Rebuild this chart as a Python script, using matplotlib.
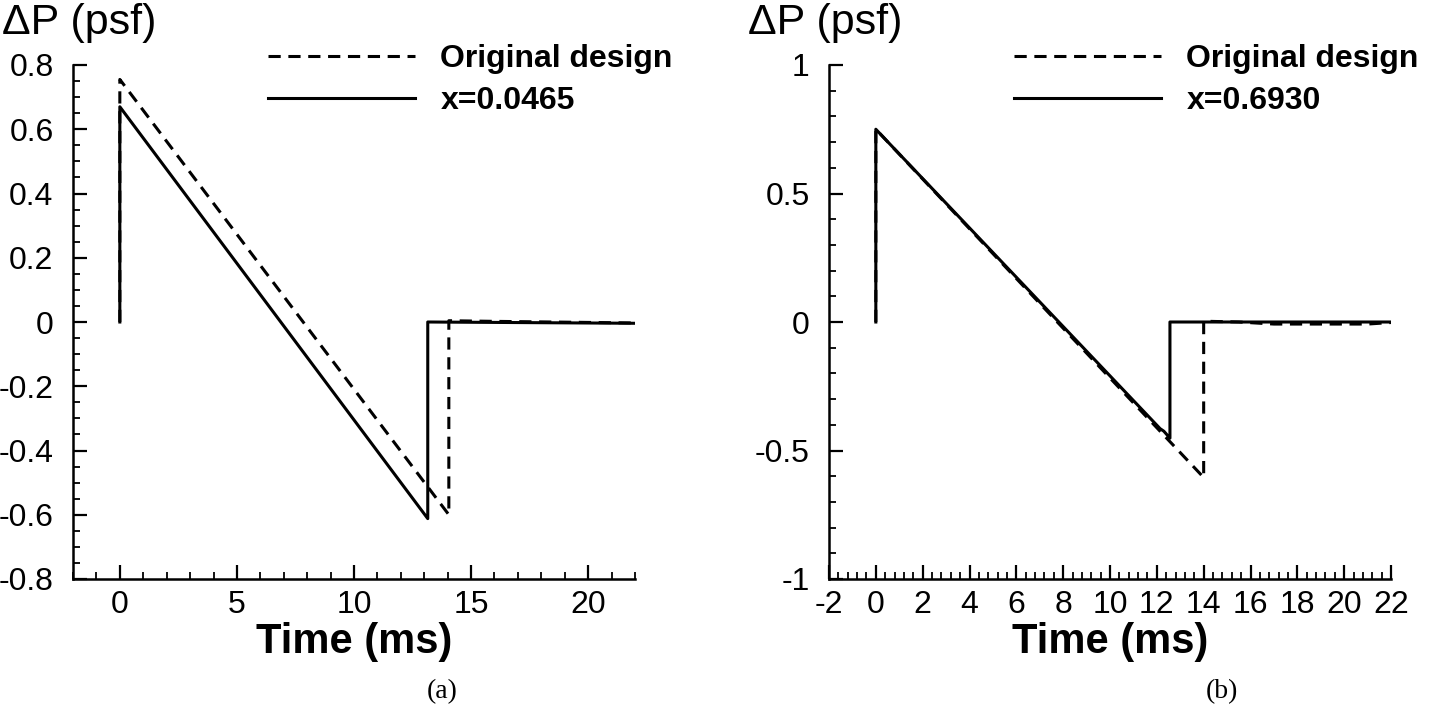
import matplotlib.pyplot as plt
from matplotlib.ticker import MultipleLocator

plt.rcParams['font.family'] = ['Liberation Sans', 'DejaVu Sans']
plt.rcParams['axes.unicode_minus'] = False

# panel (a): x = 0.0465
t_orig_a = [0, 0, 14.05, 14.05, 16.0, 22.0]
p_orig_a = [0, 0.755, -0.60, 0.004, 0.002, -0.003]
t_new_a = [0, 0, 13.15, 13.15, 22.0]
p_new_a = [0, 0.67, -0.612, 0.0, -0.004]

# panel (b): x = 0.6930
t_orig_b = [0, 0, 14.0, 14.0, 15.5, 17.0, 21.0, 22.0]
p_orig_b = [0, 0.75, -0.605, 0.003, 0.0, -0.008, -0.008, -0.002]
t_new_b = [0, 0, 12.14, 12.3, 12.56, 12.56, 22.0]
p_new_b = [0, 0.75, -0.415, -0.425, -0.452, 0.0, 0.0]

labels_a = ["Original design", "x=0.0465"]
labels_b = ["Original design", "x=0.6930"]

W, H = 1440, 714
fig = plt.figure(figsize=(W / 100, H / 100), dpi=100)


def style_axes(ax, ylim, ymaj, ymin, xmaj, xmin):
    ax.set_xlim(-2, 22)
    ax.set_ylim(*ylim)
    for s in ['top', 'right']:
        ax.spines[s].set_visible(False)
    for s in ['left', 'bottom']:
        ax.spines[s].set_linewidth(1.8)
    ax.xaxis.set_major_locator(MultipleLocator(xmaj))
    ax.xaxis.set_minor_locator(MultipleLocator(xmin))
    ax.yaxis.set_major_locator(MultipleLocator(ymaj))
    ax.yaxis.set_minor_locator(MultipleLocator(ymin))
    ax.tick_params(which='major', direction='in', length=10, width=1.6, labelsize=23)
    ax.tick_params(which='minor', direction='in', length=5, width=1.3)
    ax.tick_params(axis='y', pad=14)
    ax.tick_params(axis='x', pad=8)
    ax.set_xlabel("Time (ms)", fontsize=30, fontweight='bold', labelpad=1)


def add_legend(ax, x0):
    ax.legend(loc='upper left', bbox_to_anchor=(x0 / W, 1 - 44 / H),
              bbox_transform=fig.transFigure, frameon=False, handlelength=4.6,
              handletextpad=0.8, labelspacing=0.38, borderpad=0, borderaxespad=0,
              prop={'size': 23, 'weight': 'bold'})


# left panel
ax1 = fig.add_axes([73 / W, 1 - 579 / H, (635 - 73) / W, (579 - 65) / H])
ax1.plot(t_orig_a, p_orig_a, 'k--', lw=2.2, dashes=(4, 2.5), label=labels_a[0])
ax1.plot(t_new_a, p_new_a, 'k-', lw=2.2, label=labels_a[1])
style_axes(ax1, (-0.8, 0.8), 0.2, 0.05, 5, 1)
ax1.set_yticks([-0.8, -0.6, -0.4, -0.2, 0, 0.2, 0.4, 0.6, 0.8])
ax1.set_yticklabels(['-0.8', '-0.6', '-0.4', '-0.2', '0', '0.2', '0.4', '0.6', '0.8'])
add_legend(ax1, 268)

# right panel
ax2 = fig.add_axes([829 / W, 1 - 579 / H, (1391 - 829) / W, (579 - 65) / H])
ax2.plot(t_orig_b, p_orig_b, 'k--', lw=2.2, dashes=(4, 2.5), label=labels_b[0])
ax2.plot(t_new_b, p_new_b, 'k-', lw=2.2, label=labels_b[1])
style_axes(ax2, (-1, 1), 0.5, 0.1, 2, 0.4)
ax2.set_yticks([-1, -0.5, 0, 0.5, 1])
ax2.set_yticklabels(['-1', '-0.5', '0', '0.5', '1'])
add_legend(ax2, 1014)

# y labels at top-left of each panel
fig.text(2 / W, 1 - 34 / H, "\u0394P (psf)", fontsize=31, va='baseline', ha='left')
fig.text(748 / W, 1 - 34 / H, "\u0394P (psf)", fontsize=31, va='baseline', ha='left')

# panel captions
fig.text(442 / W, 1 - 692 / H, "(a)", fontsize=20, family='Liberation Serif',
         ha='center', va='center')
fig.text(1222 / W, 1 - 692 / H, "(b)", fontsize=20, family='Liberation Serif',
         ha='center', va='center')

fig.savefig("out.png", dpi=100)
